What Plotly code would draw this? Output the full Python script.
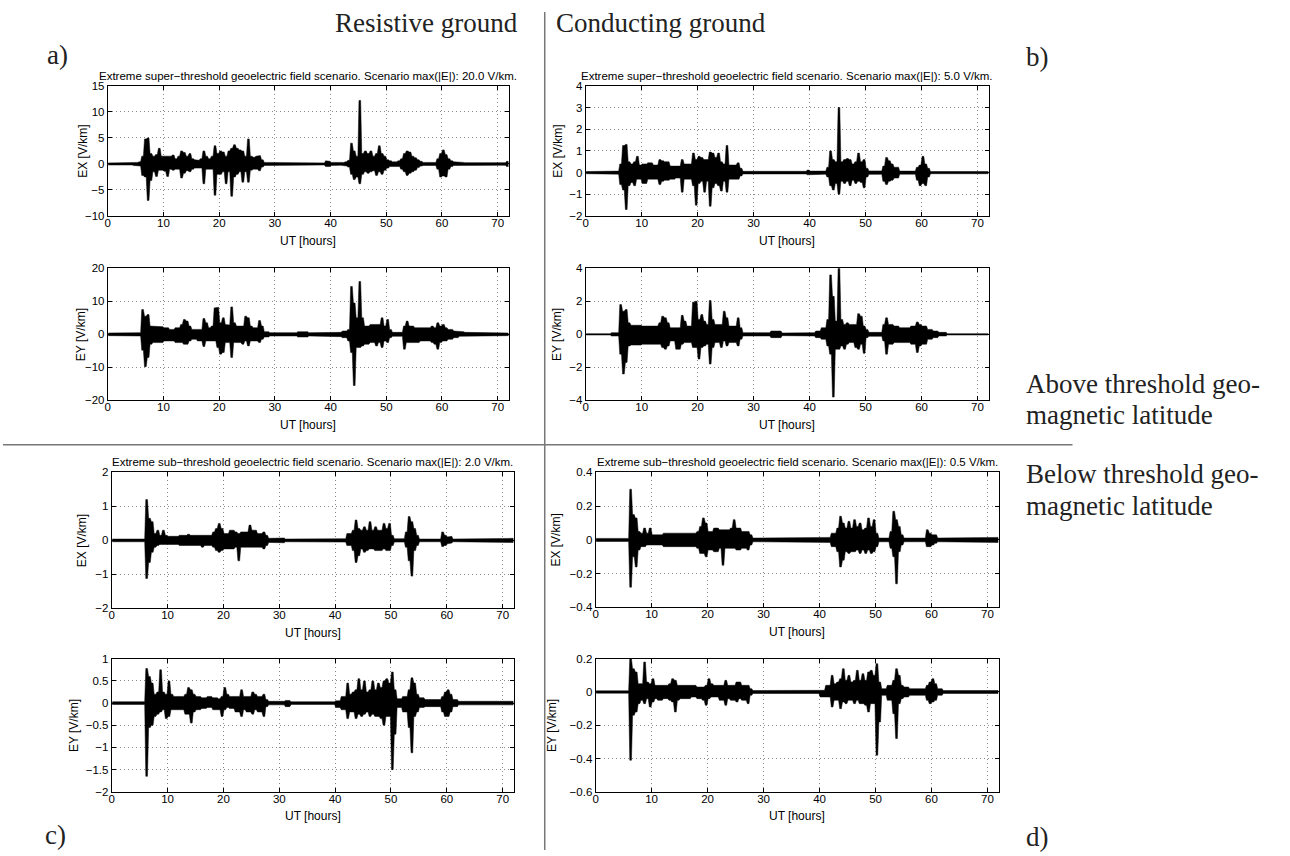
import plotly.graph_objects as go

# ---------------------------------------------------------------------------
# Geoelectric field time series, 72 h, sampled as half-hour envelopes.
# Each bin holds the upper (hi) and lower (lo) excursion of the field in V/km.
# ---------------------------------------------------------------------------
BIN_H = 0.5
N_BINS = 144

# a) resistive ground, super-threshold scenario
a_ex_hi = [0.2, 0.2, 0.25, 0.2, 0.2, 0.2, 0.25, 0.2, 0.2, 0.3, 0.3, 0.4,
           1.5, 4.8, 5.0, 2.0, 1.5, 1.8, 3.0, 1.5, 1.5, 1.5, 1.5, 1.7,
           1.0, 1.5, 2.5, 2.2, 1.5, 2.0, 1.0, 0.8, 0.7, 1.0, 2.5, 1.5,
           1.0, 1.5, 3.5, 2.0, 2.5, 2.3, 1.5, 2.5, 3.0, 3.7, 3.0, 2.7,
           2.5, 1.5, 4.8, 1.5, 1.3, 1.5, 1.6, 0.8, 0.3, 0.25, 0.25, 0.2,
           0.2, 0.25, 0.2, 0.2, 0.25, 0.3, 0.25, 0.2, 0.3, 0.25, 0.2, 0.2,
           0.2, 0.2, 0.2, 0.2, 0.25, 0.2, 0.6, 0.5, 0.3, 0.25, 0.3, 0.25,
           0.3, 0.4, 0.7, 4.0, 2.5, 1.5, 12.2, 2.0, 2.5, 2.0, 2.5, 1.5,
           2.0, 3.5, 2.0, 1.5, 0.8, 0.6, 0.4, 0.4, 0.6, 1.0, 2.0, 2.5,
           2.3, 1.5, 1.2, 0.8, 0.5, 0.3, 0.3, 0.25, 0.3, 0.3, 1.0, 2.0,
           2.7, 1.8, 1.0, 0.6, 0.4, 0.3, 0.3, 0.3, 0.25, 0.25, 0.2, 0.2,
           0.2, 0.2, 0.25, 0.2, 0.2, 0.2, 0.25, 0.2, 0.2, 0.2, 0.25, 0.5]
a_ex_lo = [-0.2, -0.2, -0.2, -0.25, -0.2, -0.2, -0.2, -0.25, -0.2, -0.3, -0.3, -0.4,
           -2.2, -2.5, -7.0, -3.2, -1.5, -2.4, -1.2, -1.2, -1.4, -2.4, -1.0, -1.2,
           -1.0, -1.0, -2.7, -1.8, -1.3, -1.5, -1.0, -0.8, -0.7, -0.8, -3.8, -1.0,
           -1.0, -1.0, -6.0, -2.0, -2.0, -1.5, -3.8, -1.5, -6.2, -2.5, -2.0, -1.5,
           -3.5, -1.5, -3.5, -1.2, -1.0, -1.0, -1.3, -0.6, -0.3, -0.25, -0.25, -0.2,
           -0.2, -0.25, -0.2, -0.25, -0.25, -0.3, -0.25, -0.2, -0.3, -0.2, -0.2, -0.2,
           -0.2, -0.2, -0.2, -0.2, -0.25, -0.2, -0.5, -0.5, -0.3, -0.25, -0.3, -0.25,
           -0.3, -0.4, -0.6, -2.0, -3.0, -2.5, -3.8, -2.0, -1.5, -1.8, -1.5, -1.3,
           -2.2, -1.5, -2.0, -1.2, -0.8, -0.5, -0.4, -0.4, -0.5, -1.0, -1.5, -2.2,
           -1.8, -1.5, -1.2, -0.7, -0.4, -0.3, -0.3, -0.25, -0.3, -0.3, -1.0, -2.5,
           -2.3, -2.5, -1.0, -0.5, -0.3, -0.3, -0.3, -0.3, -0.25, -0.25, -0.2, -0.2,
           -0.2, -0.2, -0.2, -0.25, -0.2, -0.2, -0.2, -0.2, -0.25, -0.2, -0.25, -0.5]

a_ey_hi = [0.4, 0.4, 0.4, 0.4, 0.4, 0.4, 0.4, 0.4, 0.4, 0.5, 0.5, 0.5,
           7.5, 5.5, 6.0, 2.5, 2.3, 2.3, 2.3, 2.3, 2.0, 2.0, 1.5, 1.5,
           2.0, 2.0, 3.0, 4.5, 4.0, 2.5, 1.5, 1.5, 1.5, 1.5, 4.8, 3.5,
           2.0, 2.5, 8.0, 8.2, 3.5, 5.0, 3.0, 2.8, 8.3, 3.5, 2.5, 2.5,
           2.5, 5.5, 5.0, 2.5, 2.0, 2.0, 4.2, 2.5, 0.8, 0.8, 0.5, 0.5,
           0.5, 0.5, 0.5, 0.5, 0.5, 0.5, 0.5, 0.5, 0.8, 0.8, 0.8, 0.8,
           0.5, 0.5, 0.5, 0.5, 0.5, 0.5, 0.5, 0.5, 0.5, 0.5, 0.5, 0.6,
           1.0, 1.0, 1.5, 14.5, 9.5, 5.0, 16.0, 5.0, 2.5, 2.5, 3.0, 3.0,
           3.0, 3.0, 5.0, 2.5, 4.5, 1.5, 0.6, 0.6, 0.6, 0.6, 2.5, 4.0,
           2.5, 2.5, 2.0, 2.0, 2.0, 2.0, 2.0, 2.0, 2.5, 2.0, 3.5, 2.5,
           3.0, 2.0, 1.5, 1.5, 1.0, 1.0, 0.8, 0.8, 0.6, 0.6, 0.4, 0.4,
           0.4, 0.4, 0.4, 0.4, 0.4, 0.4, 0.4, 0.4, 0.4, 0.4, 0.4, 0.4]
a_ey_lo = [-0.4, -0.4, -0.4, -0.4, -0.4, -0.4, -0.4, -0.4, -0.4, -0.5, -0.5, -0.5,
           -4.8, -9.8, -7.0, -3.0, -2.5, -2.5, -2.5, -2.5, -2.0, -2.0, -2.0, -2.0,
           -2.5, -2.5, -2.5, -3.0, -3.0, -2.0, -1.5, -1.5, -2.0, -2.0, -3.7, -2.0,
           -2.0, -1.8, -2.0, -4.0, -6.0, -5.5, -2.5, -2.5, -7.0, -2.5, -2.5, -2.5,
           -3.0, -2.0, -3.5, -2.0, -2.0, -2.0, -2.5, -1.5, -0.8, -0.8, -0.5, -0.5,
           -0.5, -0.5, -0.5, -0.5, -0.5, -0.5, -0.5, -0.5, -0.8, -0.8, -0.8, -0.8,
           -0.5, -0.5, -0.5, -0.5, -0.5, -0.5, -0.5, -0.5, -0.7, -0.7, -0.7, -0.7,
           -1.0, -1.0, -2.0, -5.5, -15.5, -4.0, -4.0, -3.5, -3.0, -3.0, -2.5, -2.5,
           -3.5, -2.5, -4.0, -2.0, -2.5, -1.0, -0.6, -0.6, -0.6, -0.6, -4.5, -2.5,
           -2.5, -2.5, -2.5, -2.5, -2.0, -2.0, -2.0, -2.0, -2.5, -3.0, -4.5, -2.5,
           -2.0, -2.0, -1.5, -1.5, -1.0, -1.0, -0.6, -0.6, -0.5, -0.5, -0.4, -0.4,
           -0.4, -0.4, -0.4, -0.4, -0.4, -0.4, -0.4, -0.4, -0.4, -0.4, -0.4, -0.4]

# b) conducting ground, super-threshold scenario
b_ex_hi = [0.05, 0.05, 0.05, 0.05, 0.05, 0.05, 0.05, 0.05, 0.05, 0.07, 0.07, 0.07,
           0.4, 1.25, 1.3, 0.5, 0.4, 0.5, 0.75, 0.35, 0.4, 0.4, 0.45, 0.45,
           0.35, 0.35, 0.6, 0.55, 0.5, 0.5, 0.3, 0.3, 0.3, 0.3, 0.6, 0.4,
           0.4, 0.4, 0.9, 0.6, 0.75, 0.7, 0.6, 0.6, 0.95, 0.9, 0.7, 0.9,
           0.5, 0.4, 1.25, 0.35, 0.35, 0.35, 0.45, 0.2, 0.06, 0.06, 0.06, 0.06,
           0.06, 0.06, 0.06, 0.06, 0.06, 0.06, 0.06, 0.06, 0.06, 0.06, 0.06, 0.06,
           0.06, 0.06, 0.06, 0.06, 0.06, 0.06, 0.06, 0.12, 0.07, 0.07, 0.07, 0.07,
           0.07, 0.07, 0.25, 1.0, 0.6, 0.5, 3.0, 0.5, 0.6, 0.65, 0.6, 0.4,
           0.5, 0.9, 0.5, 0.6, 0.2, 0.08, 0.08, 0.08, 0.08, 0.08, 0.3, 0.7,
           0.55, 0.4, 0.25, 0.25, 0.07, 0.07, 0.07, 0.07, 0.07, 0.07, 0.25, 0.35,
           0.75, 0.4, 0.2, 0.05, 0.05, 0.05, 0.05, 0.05, 0.05, 0.05, 0.05, 0.05,
           0.05, 0.05, 0.05, 0.05, 0.05, 0.05, 0.05, 0.05, 0.05, 0.05, 0.05, 0.05]
b_ex_lo = [-0.05, -0.05, -0.05, -0.05, -0.05, -0.05, -0.05, -0.05, -0.05, -0.07, -0.07, -0.07,
           -0.55, -0.8, -1.7, -0.6, -0.45, -0.6, -0.3, -0.3, -0.5, -0.5, -0.3, -0.3,
           -0.3, -0.3, -0.55, -0.4, -0.35, -0.35, -0.3, -0.3, -0.25, -0.25, -0.9, -0.3,
           -0.3, -0.3, -0.6, -1.5, -0.5, -0.4, -0.9, -0.4, -1.55, -0.7, -0.5, -0.6,
           -0.85, -0.4, -0.9, -0.3, -0.3, -0.3, -0.3, -0.15, -0.06, -0.06, -0.06, -0.06,
           -0.06, -0.06, -0.06, -0.06, -0.06, -0.06, -0.06, -0.06, -0.06, -0.06, -0.06, -0.06,
           -0.06, -0.06, -0.06, -0.06, -0.06, -0.06, -0.06, -0.1, -0.07, -0.07, -0.07, -0.07,
           -0.07, -0.07, -0.2, -0.6, -0.8, -0.5, -1.0, -0.4, -0.5, -0.4, -0.6, -0.35,
           -0.5, -0.4, -0.45, -0.7, -0.2, -0.08, -0.08, -0.08, -0.08, -0.08, -0.4, -0.55,
           -0.4, -0.35, -0.25, -0.25, -0.07, -0.07, -0.07, -0.07, -0.07, -0.07, -0.35, -0.6,
           -0.5, -0.6, -0.2, -0.05, -0.05, -0.05, -0.05, -0.05, -0.05, -0.05, -0.05, -0.05,
           -0.05, -0.05, -0.05, -0.05, -0.05, -0.05, -0.05, -0.05, -0.05, -0.05, -0.05, -0.05]

b_ey_hi = [0.04, 0.04, 0.04, 0.04, 0.04, 0.04, 0.04, 0.04, 0.04, 0.1, 0.1, 0.1,
           1.8, 1.4, 1.5, 0.7, 0.55, 0.55, 0.55, 0.55, 0.5, 0.5, 0.5, 0.5,
           0.5, 0.5, 0.7, 1.1, 1.0, 0.7, 0.4, 0.4, 0.4, 0.4, 1.15, 0.8,
           0.5, 0.5, 1.95, 2.0, 0.9, 1.2, 0.8, 0.6, 2.05, 0.9, 0.6, 0.6,
           0.6, 1.4, 1.0, 0.5, 0.5, 0.5, 1.0, 0.4, 0.1, 0.1, 0.1, 0.1,
           0.1, 0.1, 0.1, 0.1, 0.1, 0.1, 0.2, 0.2, 0.2, 0.2, 0.08, 0.08,
           0.08, 0.08, 0.08, 0.08, 0.08, 0.08, 0.08, 0.08, 0.1, 0.1, 0.2, 0.2,
           0.4, 0.4, 0.9, 3.6, 2.3, 0.8, 4.0, 0.9, 0.6, 0.7, 0.6, 0.6,
           0.6, 1.25, 1.1, 0.5, 0.3, 0.12, 0.12, 0.12, 0.12, 0.12, 0.6, 1.0,
           0.6, 0.6, 0.5, 0.5, 0.4, 0.4, 0.4, 0.4, 0.5, 0.5, 0.75, 0.6,
           0.5, 0.5, 0.3, 0.3, 0.2, 0.2, 0.12, 0.12, 0.12, 0.04, 0.04, 0.04,
           0.04, 0.04, 0.04, 0.04, 0.04, 0.04, 0.04, 0.04, 0.04, 0.04, 0.04, 0.04]
b_ey_lo = [-0.04, -0.04, -0.04, -0.04, -0.04, -0.04, -0.04, -0.04, -0.04, -0.1, -0.1, -0.1,
           -1.2, -2.4, -1.7, -0.7, -0.65, -0.65, -0.65, -0.65, -0.6, -0.6, -0.6, -0.6,
           -0.6, -0.6, -0.6, -0.8, -0.9, -0.7, -0.4, -0.4, -0.9, -0.9, -0.6, -0.5,
           -0.5, -0.5, -0.8, -0.8, -1.5, -0.8, -0.7, -0.6, -1.8, -0.8, -0.5, -0.5,
           -0.8, -0.4, -0.7, -0.5, -0.5, -0.5, -0.7, -0.3, -0.1, -0.1, -0.1, -0.1,
           -0.1, -0.1, -0.1, -0.1, -0.1, -0.1, -0.2, -0.2, -0.2, -0.2, -0.08, -0.08,
           -0.08, -0.08, -0.08, -0.08, -0.08, -0.08, -0.08, -0.08, -0.1, -0.1, -0.2, -0.2,
           -0.3, -0.3, -0.7, -1.2, -3.8, -0.9, -0.9, -0.7, -0.9, -0.6, -0.5, -0.5,
           -0.8, -0.9, -0.6, -1.15, -0.2, -0.12, -0.12, -0.12, -0.12, -0.12, -0.4, -1.2,
           -0.6, -0.6, -0.5, -0.5, -0.5, -0.5, -0.5, -0.5, -0.6, -0.6, -1.1, -0.7,
           -0.6, -0.6, -0.3, -0.3, -0.2, -0.2, -0.1, -0.1, -0.1, -0.04, -0.04, -0.04,
           -0.04, -0.04, -0.04, -0.04, -0.04, -0.04, -0.04, -0.04, -0.04, -0.04, -0.04, -0.04]

# c) resistive ground, sub-threshold scenario
c_ex_hi = [0.04, 0.04, 0.04, 0.04, 0.04, 0.04, 0.04, 0.04, 0.04, 0.04, 0.04, 0.04,
           1.2, 0.65, 0.55, 0.2, 0.3, 0.15, 0.3, 0.15, 0.12, 0.12, 0.12, 0.12,
           0.15, 0.15, 0.15, 0.18, 0.15, 0.15, 0.15, 0.15, 0.15, 0.15, 0.15, 0.15,
           0.25, 0.35, 0.5, 0.35, 0.2, 0.2, 0.3, 0.3, 0.25, 0.2, 0.25, 0.25,
           0.25, 0.45, 0.3, 0.3, 0.2, 0.2, 0.25, 0.15, 0.06, 0.06, 0.05, 0.05,
           0.07, 0.07, 0.04, 0.04, 0.04, 0.04, 0.04, 0.04, 0.04, 0.04, 0.04, 0.04,
           0.04, 0.04, 0.04, 0.04, 0.04, 0.04, 0.04, 0.04, 0.05, 0.05, 0.05, 0.05,
           0.2, 0.2, 0.3, 0.6, 0.35, 0.3, 0.4, 0.3, 0.55, 0.3, 0.4, 0.3,
           0.3, 0.5, 0.35, 0.5, 0.15, 0.05, 0.05, 0.05, 0.05, 0.25, 0.7, 0.55,
           0.35, 0.15, 0.04, 0.04, 0.04, 0.04, 0.04, 0.04, 0.04, 0.04, 0.25, 0.15,
           0.1, 0.12, 0.04, 0.04, 0.04, 0.04, 0.04, 0.04, 0.04, 0.04, 0.04, 0.04,
           0.04, 0.04, 0.04, 0.04, 0.04, 0.04, 0.04, 0.04, 0.06, 0.06, 0.06, 0.06]
c_ex_lo = [-0.04, -0.04, -0.04, -0.04, -0.04, -0.04, -0.04, -0.04, -0.04, -0.04, -0.04, -0.04,
           -1.12, -0.65, -0.35, -0.2, -0.15, -0.12, -0.1, -0.1, -0.12, -0.12, -0.12, -0.12,
           -0.15, -0.15, -0.15, -0.15, -0.15, -0.15, -0.15, -0.15, -0.2, -0.15, -0.15, -0.15,
           -0.2, -0.3, -0.35, -0.3, -0.25, -0.25, -0.25, -0.25, -0.2, -0.6, -0.2, -0.2,
           -0.2, -0.2, -0.2, -0.2, -0.2, -0.2, -0.25, -0.15, -0.06, -0.06, -0.05, -0.05,
           -0.07, -0.07, -0.04, -0.04, -0.04, -0.04, -0.04, -0.04, -0.04, -0.04, -0.04, -0.04,
           -0.04, -0.04, -0.04, -0.04, -0.04, -0.04, -0.04, -0.04, -0.05, -0.05, -0.05, -0.05,
           -0.15, -0.15, -0.3, -0.65, -0.45, -0.25, -0.35, -0.3, -0.25, -0.25, -0.3, -0.3,
           -0.3, -0.25, -0.3, -0.3, -0.15, -0.05, -0.05, -0.05, -0.05, -0.2, -0.6, -1.05,
           -0.3, -0.15, -0.04, -0.04, -0.04, -0.04, -0.04, -0.04, -0.04, -0.04, -0.18, -0.15,
           -0.1, -0.08, -0.04, -0.04, -0.04, -0.04, -0.04, -0.04, -0.04, -0.04, -0.04, -0.04,
           -0.04, -0.04, -0.04, -0.04, -0.04, -0.04, -0.04, -0.04, -0.06, -0.06, -0.06, -0.06]

c_ey_hi = [0.03, 0.03, 0.03, 0.03, 0.03, 0.03, 0.03, 0.03, 0.03, 0.03, 0.03, 0.03,
           0.78, 0.6, 0.45, 0.2, 0.25, 0.75, 0.25, 0.2, 0.5, 0.2, 0.15, 0.15,
           0.15, 0.15, 0.2, 0.35, 0.3, 0.2, 0.15, 0.15, 0.12, 0.12, 0.15, 0.15,
           0.12, 0.12, 0.1, 0.15, 0.35, 0.2, 0.15, 0.15, 0.15, 0.15, 0.3, 0.15,
           0.15, 0.15, 0.25, 0.2, 0.15, 0.15, 0.2, 0.08, 0.04, 0.04, 0.04, 0.04,
           0.04, 0.04, 0.06, 0.06, 0.03, 0.03, 0.03, 0.03, 0.03, 0.03, 0.03, 0.03,
           0.03, 0.03, 0.03, 0.03, 0.03, 0.03, 0.03, 0.03, 0.05, 0.05, 0.15, 0.15,
           0.45, 0.2, 0.25, 0.3, 0.55, 0.3, 0.5, 0.25, 0.3, 0.5, 0.3, 0.45,
           0.35, 0.5, 0.55, 0.45, 0.7, 0.3, 0.1, 0.1, 0.15, 0.15, 0.3, 0.57,
           0.45, 0.2, 0.12, 0.12, 0.08, 0.08, 0.08, 0.08, 0.08, 0.08, 0.15, 0.25,
           0.3, 0.2, 0.08, 0.08, 0.04, 0.04, 0.04, 0.04, 0.04, 0.04, 0.04, 0.04,
           0.04, 0.04, 0.04, 0.04, 0.04, 0.04, 0.04, 0.04, 0.04, 0.04, 0.04, 0.04]
c_ey_lo = [-0.03, -0.03, -0.03, -0.03, -0.03, -0.03, -0.03, -0.03, -0.03, -0.03, -0.03, -0.03,
           -1.65, -0.55, -0.5, -0.3, -0.25, -0.2, -0.15, -0.35, -0.3, -0.15, -0.15, -0.15,
           -0.15, -0.15, -0.25, -0.25, -0.45, -0.2, -0.15, -0.15, -0.12, -0.12, -0.1, -0.1,
           -0.15, -0.15, -0.15, -0.3, -0.15, -0.1, -0.12, -0.12, -0.2, -0.2, -0.3, -0.15,
           -0.2, -0.2, -0.25, -0.15, -0.2, -0.2, -0.3, -0.08, -0.04, -0.04, -0.04, -0.04,
           -0.04, -0.04, -0.08, -0.08, -0.03, -0.03, -0.03, -0.03, -0.03, -0.03, -0.03, -0.03,
           -0.03, -0.03, -0.03, -0.03, -0.03, -0.03, -0.03, -0.03, -0.1, -0.1, -0.15, -0.15,
           -0.35, -0.2, -0.2, -0.35, -0.25, -0.3, -0.25, -0.2, -0.3, -0.25, -0.3, -0.3,
           -0.35, -0.5, -0.3, -0.3, -1.5, -0.7, -0.1, -0.1, -0.2, -0.2, -0.55, -1.12,
           -0.3, -0.2, -0.1, -0.1, -0.08, -0.08, -0.08, -0.08, -0.08, -0.08, -0.2, -0.3,
           -0.3, -0.2, -0.08, -0.08, -0.04, -0.04, -0.04, -0.04, -0.04, -0.04, -0.04, -0.04,
           -0.04, -0.04, -0.04, -0.04, -0.04, -0.04, -0.04, -0.04, -0.04, -0.04, -0.04, -0.04]

# d) conducting ground, sub-threshold scenario
d_ex_hi = [0.009, 0.009, 0.009, 0.009, 0.009, 0.009, 0.009, 0.009, 0.009, 0.009, 0.009, 0.009,
           0.3, 0.15, 0.13, 0.05, 0.04, 0.07, 0.04, 0.07, 0.03, 0.03, 0.03, 0.03,
           0.04, 0.04, 0.04, 0.04, 0.04, 0.04, 0.04, 0.04, 0.04, 0.04, 0.04, 0.04,
           0.05, 0.08, 0.13, 0.1, 0.05, 0.05, 0.07, 0.07, 0.06, 0.06, 0.06, 0.06,
           0.07, 0.12, 0.07, 0.07, 0.05, 0.05, 0.05, 0.03, 0.011, 0.011, 0.011, 0.011,
           0.011, 0.011, 0.011, 0.011, 0.011, 0.011, 0.011, 0.011, 0.011, 0.011, 0.011, 0.011,
           0.011, 0.011, 0.011, 0.011, 0.011, 0.011, 0.011, 0.011, 0.015, 0.015, 0.015, 0.015,
           0.04, 0.04, 0.07, 0.14, 0.1, 0.07, 0.11, 0.07, 0.12, 0.08, 0.1, 0.06,
           0.07, 0.13, 0.08, 0.12, 0.04, 0.011, 0.011, 0.011, 0.011, 0.05, 0.17, 0.12,
           0.08, 0.03, 0.011, 0.011, 0.011, 0.011, 0.011, 0.011, 0.011, 0.011, 0.06, 0.04,
           0.03, 0.03, 0.011, 0.011, 0.011, 0.011, 0.011, 0.011, 0.011, 0.011, 0.011, 0.011,
           0.011, 0.011, 0.011, 0.011, 0.011, 0.011, 0.015, 0.015, 0.015, 0.015, 0.015, 0.015]
d_ex_lo = [-0.009, -0.009, -0.009, -0.009, -0.009, -0.009, -0.009, -0.009, -0.009, -0.009, -0.009, -0.009,
           -0.28, -0.1, -0.16, -0.06, -0.04, -0.04, -0.03, -0.03, -0.03, -0.03, -0.03, -0.03,
           -0.04, -0.04, -0.04, -0.04, -0.04, -0.04, -0.04, -0.04, -0.04, -0.04, -0.04, -0.04,
           -0.05, -0.08, -0.08, -0.1, -0.06, -0.06, -0.07, -0.07, -0.05, -0.15, -0.05, -0.05,
           -0.05, -0.05, -0.06, -0.06, -0.05, -0.05, -0.06, -0.03, -0.011, -0.011, -0.011, -0.011,
           -0.011, -0.011, -0.011, -0.011, -0.011, -0.011, -0.011, -0.011, -0.011, -0.011, -0.011, -0.011,
           -0.011, -0.011, -0.011, -0.011, -0.011, -0.011, -0.011, -0.011, -0.015, -0.015, -0.015, -0.015,
           -0.04, -0.04, -0.07, -0.16, -0.12, -0.07, -0.08, -0.07, -0.07, -0.06, -0.08, -0.06,
           -0.08, -0.06, -0.08, -0.07, -0.04, -0.011, -0.011, -0.011, -0.011, -0.05, -0.1, -0.26,
           -0.07, -0.03, -0.011, -0.011, -0.011, -0.011, -0.011, -0.011, -0.011, -0.011, -0.04, -0.04,
           -0.03, -0.02, -0.011, -0.011, -0.011, -0.011, -0.011, -0.011, -0.011, -0.011, -0.011, -0.011,
           -0.011, -0.011, -0.011, -0.011, -0.011, -0.011, -0.015, -0.015, -0.015, -0.015, -0.015, -0.015]

d_ey_hi = [0.007, 0.007, 0.007, 0.007, 0.007, 0.007, 0.007, 0.007, 0.007, 0.007, 0.007, 0.007,
           0.2, 0.14, 0.12, 0.05, 0.05, 0.18, 0.06, 0.05, 0.08, 0.04, 0.04, 0.04,
           0.04, 0.04, 0.05, 0.08, 0.07, 0.04, 0.04, 0.04, 0.04, 0.04, 0.04, 0.04,
           0.03, 0.03, 0.03, 0.04, 0.08, 0.05, 0.04, 0.04, 0.04, 0.04, 0.07, 0.04,
           0.04, 0.04, 0.06, 0.06, 0.04, 0.04, 0.04, 0.02, 0.009, 0.009, 0.009, 0.009,
           0.009, 0.009, 0.009, 0.009, 0.009, 0.009, 0.009, 0.009, 0.009, 0.009, 0.009, 0.009,
           0.009, 0.009, 0.009, 0.009, 0.009, 0.009, 0.009, 0.009, 0.01, 0.01, 0.04, 0.04,
           0.1, 0.05, 0.06, 0.08, 0.14, 0.07, 0.1, 0.06, 0.07, 0.13, 0.07, 0.11,
           0.07, 0.12, 0.13, 0.1, 0.17, 0.06, 0.02, 0.02, 0.04, 0.04, 0.07, 0.14,
           0.1, 0.04, 0.03, 0.03, 0.02, 0.02, 0.02, 0.02, 0.02, 0.02, 0.04, 0.06,
           0.08, 0.05, 0.02, 0.02, 0.009, 0.009, 0.009, 0.009, 0.009, 0.009, 0.009, 0.009,
           0.009, 0.009, 0.009, 0.009, 0.009, 0.009, 0.009, 0.009, 0.009, 0.009, 0.009, 0.009]
d_ey_lo = [-0.007, -0.007, -0.007, -0.007, -0.007, -0.007, -0.007, -0.007, -0.007, -0.007, -0.007, -0.007,
           -0.41, -0.14, -0.12, -0.07, -0.05, -0.07, -0.04, -0.09, -0.06, -0.04, -0.05, -0.05,
           -0.04, -0.04, -0.05, -0.06, -0.12, -0.05, -0.04, -0.04, -0.04, -0.04, -0.03, -0.03,
           -0.04, -0.04, -0.05, -0.08, -0.04, -0.03, -0.03, -0.03, -0.05, -0.05, -0.08, -0.04,
           -0.05, -0.05, -0.06, -0.04, -0.05, -0.05, -0.07, -0.02, -0.009, -0.009, -0.009, -0.009,
           -0.009, -0.009, -0.009, -0.009, -0.009, -0.009, -0.009, -0.009, -0.009, -0.009, -0.009, -0.009,
           -0.009, -0.009, -0.009, -0.009, -0.009, -0.009, -0.009, -0.009, -0.03, -0.03, -0.03, -0.03,
           -0.09, -0.05, -0.05, -0.1, -0.06, -0.07, -0.05, -0.05, -0.07, -0.05, -0.07, -0.07,
           -0.08, -0.12, -0.07, -0.07, -0.38, -0.18, -0.02, -0.02, -0.05, -0.05, -0.13, -0.28,
           -0.07, -0.04, -0.03, -0.03, -0.02, -0.02, -0.02, -0.02, -0.02, -0.02, -0.05, -0.07,
           -0.06, -0.05, -0.02, -0.02, -0.009, -0.009, -0.009, -0.009, -0.009, -0.009, -0.009, -0.009,
           -0.009, -0.009, -0.009, -0.009, -0.009, -0.009, -0.009, -0.009, -0.009, -0.009, -0.009, -0.009]

# Panel titles and axis settings
title_super_res = "Extreme super\u2212threshold geoelectric field scenario. Scenario max(|E|): 20.0 V/km."
title_super_con = "Extreme super\u2212threshold geoelectric field scenario. Scenario max(|E|): 5.0 V/km."
title_sub_res = "Extreme sub\u2212threshold geoelectric field scenario. Scenario max(|E|): 2.0 V/km."
title_sub_con = "Extreme sub\u2212threshold geoelectric field scenario. Scenario max(|E|): 0.5 V/km."

W, H = 1290, 856

# (hi, lo, y-range, y-step, ylabel, box in pixels [x0, x1, ytop, ybottom], ylabel x, title)
panels = [
    (a_ex_hi, a_ex_lo, [-10, 15], 5, "EX [V/km]", [105, 507, 81, 213], 80, title_super_res),
    (a_ey_hi, a_ey_lo, [-20, 20], 10, "EY [V/km]", [105, 507, 266, 400], 79, None),
    (b_ex_hi, b_ex_lo, [-2, 4], 1, "EX [V/km]", [584, 988, 81, 213], 556, title_super_con),
    (b_ey_hi, b_ey_lo, [-4, 4], 2, "EY [V/km]", [584, 988, 266, 400], 556, None),
    (c_ex_hi, c_ex_lo, [-2, 2], 1, "EX [V/km]", [109, 512, 473, 611], 80, title_sub_res),
    (c_ey_hi, c_ey_lo, [-2, 1], 0.5, "EY [V/km]", [109, 512, 662, 797], 71, None),
    (d_ex_hi, d_ex_lo, [-0.4, 0.4], 0.2, "EX [V/km]", [594, 998, 473, 610], 554, title_sub_con),
    (d_ey_hi, d_ey_lo, [-0.6, 0.2], 0.2, "EY [V/km]", [594, 998, 662, 797], 551, None),
]

SANS = "Liberation Sans, Arial, Helvetica, sans-serif"
SERIF = "Liberation Serif, Times New Roman, serif"

fig = go.Figure()
annotations = []
layout_axes = {}

for k, (hi, lo, yr, ystep, ylab, box, ylab_x, title) in enumerate(panels, start=1):
    assert len(hi) == N_BINS and len(lo) == N_BINS
    # Inked band: each half-hour bin spans its upper and lower excursion,
    # drawn as a narrow column so that isolated spikes stay thin.
    up_x, up_y, dn_x, dn_y = [], [], [], []
    for i in range(N_BINS):
        t = i * BIN_H
        up_x += [t + 0.1, t + 0.4]
        up_y += [hi[i], hi[i]]
        dn_x += [t + 0.1, t + 0.4]
        dn_y += [lo[i], lo[i]]
    fig.add_trace(go.Scatter(
        x=up_x + dn_x[::-1], y=up_y + dn_y[::-1], mode="lines",
        fill="toself", fillcolor="black",
        line=dict(color="black", width=0.5),
        xaxis=f"x{k}", yaxis=f"y{k}",
        showlegend=False, hoverinfo="skip",
    ))

    x0, x1, yt, yb = box
    common = dict(
        showline=True, linecolor="black", linewidth=1, mirror="ticks",
        ticks="inside", ticklen=4, tickcolor="black", tickwidth=1,
        showgrid=True, gridcolor="#8a8a8a", gridwidth=1, griddash="1px,3px",
        zeroline=False, tickfont=dict(family=SANS, size=11.5, color="black"),
        tickmode="linear",
    )
    layout_axes[f"xaxis{k}"] = dict(
        domain=[x0 / W, x1 / W], anchor=f"y{k}", range=[0, 72],
        tick0=0, dtick=10, ticklabelstandoff=-4, **common,
    )
    layout_axes[f"yaxis{k}"] = dict(
        domain=[1 - yb / H, 1 - yt / H], anchor=f"x{k}", range=yr,
        tick0=yr[0], dtick=ystep, **common,
    )

    # axis titles
    annotations.append(dict(
        text="UT [hours]", x=(x0 + x1) / 2 / W, y=1 - (yb + 25) / H,
        xref="paper", yref="paper", xanchor="center", yanchor="middle",
        showarrow=False, font=dict(family=SANS, size=12, color="black"),
    ))
    annotations.append(dict(
        text=ylab, x=ylab_x / W, y=1 - (yt + yb) / 2 / H,
        xref="paper", yref="paper", xanchor="center", yanchor="middle",
        textangle=-90, showarrow=False,
        font=dict(family=SANS, size=12, color="black"),
    ))
    if title:
        annotations.append(dict(
            text=title, x=(x0 + x1) / 2 / W, y=1 - (yt - 10.5) / H,
            xref="paper", yref="paper", xanchor="center", yanchor="middle",
            showarrow=False, font=dict(family=SANS, size=11.5, color="black"),
        ))

# Serif headings and panel letters
serif_labels = [
    ("Resistive ground", 518, 17, "right"),
    ("Conducting ground", 552, 17, "left"),
    ("a)", 42, 50, "left"),
    ("b)", 1023, 52, "left"),
    ("c)", 40, 841, "left"),
    ("d)", 1023, 843, "left"),
    ("Above threshold geo-", 1023, 383, "left"),
    ("magnetic latitude", 1023, 415, "left"),
    ("Below threshold geo-", 1023, 475, "left"),
    ("magnetic latitude", 1023, 507, "left"),
]
for text, px, py, anchor in serif_labels:
    annotations.append(dict(
        text=text, x=px / W, y=1 - py / H, xref="paper", yref="paper",
        xanchor=anchor, yanchor="middle", showarrow=False,
        font=dict(family=SERIF, size=27, color="#222222"),
    ))

# Separating rules between the four quadrants
shapes = [
    dict(type="line", xref="paper", yref="paper",
         x0=543 / W, x1=543 / W, y0=0, y1=1 - 6 / H,
         line=dict(color="#777777", width=1.5)),
    dict(type="line", xref="paper", yref="paper",
         x0=0, x1=1072 / W, y0=1 - 445 / H, y1=1 - 445 / H,
         line=dict(color="#777777", width=1.5)),
]

fig.update_layout(
    width=W, height=H,
    margin=dict(l=0, r=0, t=0, b=0),
    paper_bgcolor="white", plot_bgcolor="white",
    annotations=annotations, shapes=shapes,
    **layout_axes,
)

fig.write_html("out.html")
